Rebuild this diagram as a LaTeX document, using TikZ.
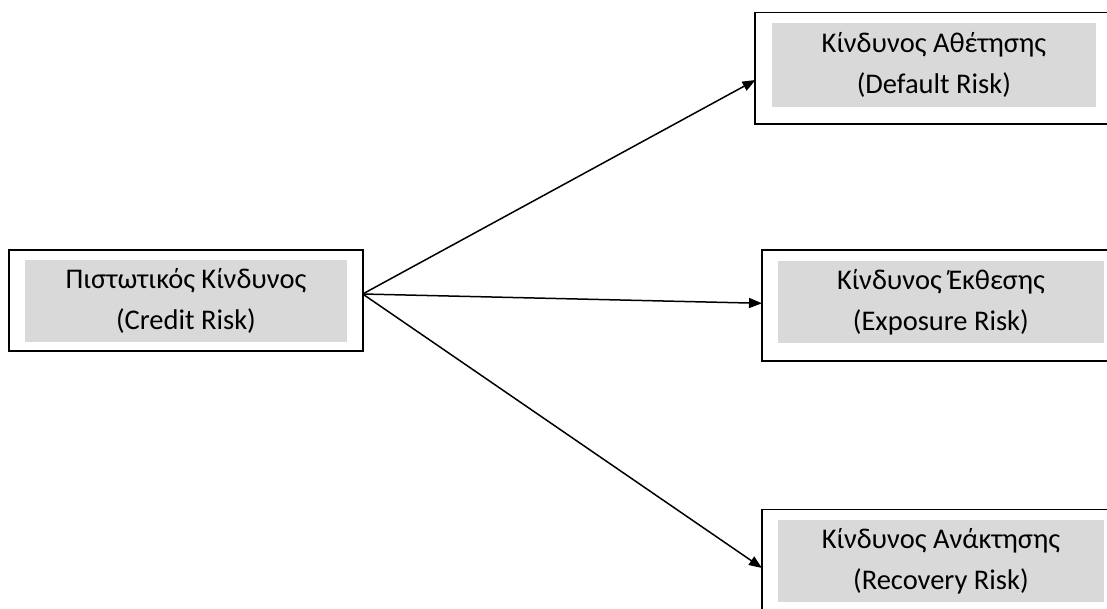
\documentclass[tikz,border=0pt]{standalone}
\usepackage{fontspec}
\setmainfont{Carlito}
\usetikzlibrary{arrows.meta}
\definecolor{boxgray}{HTML}{D9D9D9}
\begin{document}
\begin{tikzpicture}[x=1pt,y=-1pt,
  outerbox/.style={draw=black,line width=1.6pt,fill=white,inner sep=0pt,minimum width=#1},
  innerbox/.style={fill=boxgray,inner sep=0pt,align=center,font=\fontsize{28.5}{41}\selectfont},
  link/.style={line width=1.5pt,-{Triangle[length=13pt,width=10pt]}}]
\useasboundingbox (0,0) rectangle (1107,609);
\clip (0,0) rectangle (1107,609);
\fill[white] (0,0) rectangle (1107,609);
% left
\node[outerbox=354.3pt,minimum height=100.7pt] (L) at (185.9,300.4) {};
\node[innerbox,minimum width=322pt,minimum height=81.7pt] (Lt) at (186,301) {Πιστωτικός Κίνδυνος\\(Credit Risk)};
% top right
\node[outerbox=365pt,minimum height=111.7pt] (T) at (937.5,68.2) {};
\node[innerbox,minimum width=324.3pt,minimum height=84pt] (Tt) at (933.9,64.7) {Κίνδυνος Αθέτησης\\(Default Risk)};
% middle right
\node[outerbox=358.3pt,minimum height=110.7pt] (M) at (940.9,305.4) {};
\node[innerbox,minimum width=326.3pt,minimum height=82.6pt] (Mt) at (940.9,302) {Κίνδυνος Έκθεσης\\(Exposure Risk)};
% bottom right
\node[outerbox=358.3pt,minimum height=110.7pt] (B) at (940.9,564.7) {};
\node[innerbox,minimum width=326.3pt,minimum height=81.7pt] (Bt) at (940.9,560.9) {Κίνδυνος Ανάκτησης\\(Recovery Risk)};
% connectors
\coordinate (src) at (362.7,294);
\coordinate (tT) at (755.5,80);
\coordinate (tM) at (762,303.3);
\coordinate (tB) at (762,568);
\draw[link] (src) -- (tT);
\draw[link] (src) -- (tM);
\draw[link] (src) -- (tB);
\end{tikzpicture}
\end{document}
